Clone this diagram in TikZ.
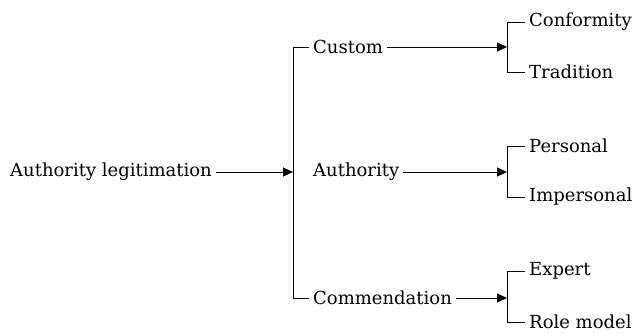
\documentclass[tikz,border=0pt]{standalone}
\usepackage{fontspec}
\setmainfont{DejaVu Serif}
\usetikzlibrary{arrows.meta}
\begin{document}
\begin{tikzpicture}[x=1pt,y=-1pt,
  lbl/.style={anchor=west,inner xsep=4pt,inner ysep=2pt,font=\fontsize{18}{20}\selectfont},
  arr/.style={-{Triangle[length=10pt,width=9pt]},line width=1pt},
  brk/.style={line width=1pt}]
\useasboundingbox (0,0) rectangle (634,333);
% root
\node[lbl] (root) at (6,172) {Authority legitimation};
\coordinate (m) at (293,172);
\coordinate (mt) at (293,47);
\coordinate (mb) at (293,298);
\draw[arr] (root.east) -- (m);
% main level
\node[lbl] (cus) at (309,47) {Custom};
\node[lbl] (aut) at (309,172) {Authority};
\node[lbl] (com) at (309,298) {Commendation};
\draw[brk] (cus.west) -- (mt) -- (mb) -- (com.west);
% sub brackets
\coordinate (c) at (507,47);
\coordinate (ct) at (507,22);
\coordinate (cb) at (507,72);
\coordinate (a) at (507,172);
\coordinate (at) at (507,146);
\coordinate (ab) at (507,197);
\coordinate (k) at (507,298);
\coordinate (kt) at (507,271);
\coordinate (kb) at (507,322);
\draw[arr] (cus.east) -- (c);
\draw[arr] (aut.east) -- (a);
\draw[arr] (com.east) -- (k);
\node[lbl] (con) at (525,22) {Conformity};
\node[lbl] (tra) at (525,72) {Tradition};
\node[lbl] (per) at (525,146) {Personal};
\node[lbl] (imp) at (525,197) {Impersonal};
\node[lbl] (exp) at (525,271) {Expert};
\node[lbl] (rol) at (525,322) {Role model};
\draw[brk] (con.west) -- (ct) -- (cb) -- (tra.west);
\draw[brk] (per.west) -- (at) -- (ab) -- (imp.west);
\draw[brk] (exp.west) -- (kt) -- (kb) -- (rol.west);
\end{tikzpicture}
\end{document}
